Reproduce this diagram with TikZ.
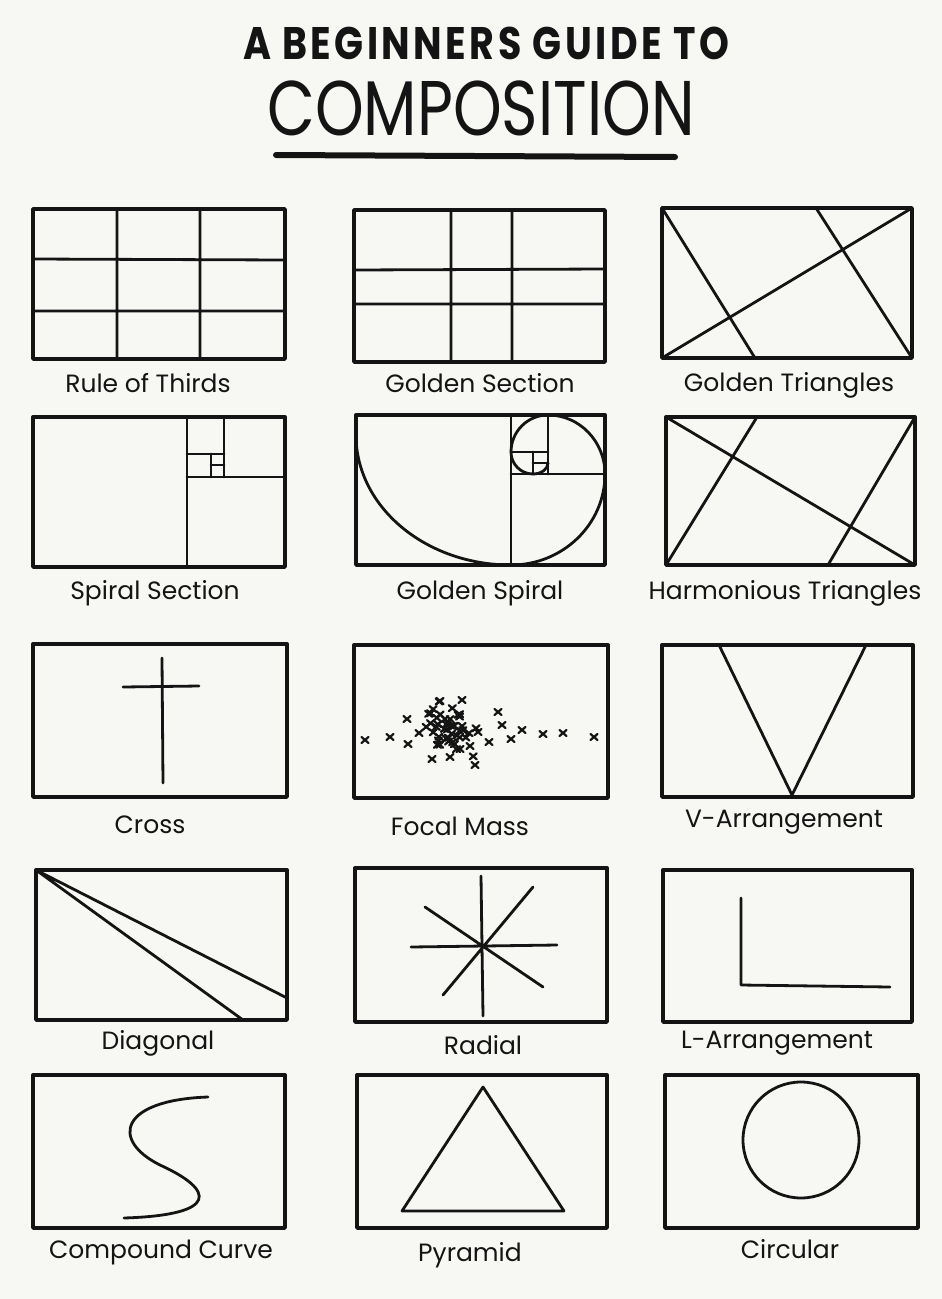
\documentclass[tikz,border=0pt]{standalone}
\usepackage{fontspec}
\setmainfont{Poppins}
\newfontfamily\headfont[LetterSpace=9]{Poppins}
\definecolor{paper}{RGB}{247,247,243}
\definecolor{ink}{RGB}{20,20,20}

\begin{document}
\begin{tikzpicture}[x=1pt,y=-1pt,line cap=round,line join=round,
  frame/.style={draw=ink,line width=3.4pt},
  pen/.style={draw=ink,line width=2.8pt},
  dot/.style={draw=ink,line width=2.2pt},
  lbl/.style={font=\fontsize{25}{25}\selectfont,text=ink,inner sep=0pt}]
\fill[paper] (0,0) rectangle (942,1299);
\node[font=\headfont\fontsize{38}{38}\selectfont\bfseries,text=ink] (head) at (486,43) {\scalebox{1}[1.2]{A BEGINNERS GUIDE TO}};
\node[font=\fontsize{62}{62}\selectfont,text=ink] (comp) at (481,108) {\scalebox{1}[1.25]{COMPOSITION}};
\draw[ink,line width=6pt] (276,155) -- (675,157);
% row 1
\draw[frame] (33,209) rectangle (285,359);
\draw[pen] (117,209) -- (117,359) (200,209) -- (200,359) (33,259) -- (285,260) (33,311) -- (285,311);
\draw[frame] (354,210) rectangle (605,362);
\draw[pen] (451,210) -- (451,362) (512,210) -- (512,362) (354,270) -- (605,269) (354,304) -- (605,304);
\draw[frame] (662,208) rectangle (912,358);
\draw[pen] (662,208) -- (755,358) (912,208) -- (662,358) (816,208) -- (912,358);
\node[lbl] (thirds) at (148,383) {Rule of Thirds};
\node[lbl] (gsection) at (480,383) {Golden Section};
\node[lbl] (gtri) at (789,385) {Golden Triangles};
% row 2
\draw[frame] (33,417) rectangle (285,567);
\draw[pen] (187,417) -- (187,567) (187,477) -- (285,477) (224,417) -- (224,477) (187,454) -- (224,454) (211,454) -- (211,477) (211,465) -- (224,465);
\draw[frame] (356,415) rectangle (605,565);
\draw[pen] (511,415) -- (511,565) (511,474) -- (605,474) (548,415) -- (548,474) (511,452) -- (548,452) (533,452) -- (533,474) (533,463) -- (548,463);
\draw[pen] (356,435) arc[start angle=180,end angle=90,x radius=155,y radius=130]
  arc[start angle=90,end angle=0,x radius=94,y radius=91]
  arc[start angle=0,end angle=-90,x radius=57,y radius=59]
  arc[start angle=-90,end angle=-180,radius=37]
  arc[start angle=180,end angle=90,radius=22]
  arc[start angle=90,end angle=0,x radius=15,y radius=11];
\draw[frame] (666,417) rectangle (915,565);
\draw[pen] (666,417) -- (915,565) (757,417) -- (666,565) (915,417) -- (828,565);
\node[lbl] (ssection) at (155,593) {Spiral Section};
\node[lbl] (gspiral) at (480,593) {Golden Spiral};
\node[lbl] (htri) at (785,593) {Harmonious Triangles};
% row 3
\draw[frame] (33,644) rectangle (287,797);
\draw[pen] (162,658) -- (163,783) (123,687) -- (199,686);
\draw[frame] (354,645) rectangle (608,798);
\foreach \px/\py in {365/740,390/737,407/719,408/744,419/733,432/759,450/757,475/765,498/712,502/725,489/742,511/739,522/730,543/734,563/733,594/737,440/701,462/700,478/732,470/746,460/749}
  {\draw[dot] ({\px-3.5},{\py-3}) -- ({\px+3.5},{\py+3}) ({\px-3.5},{\py+3}) -- ({\px+3.5},{\py-3});}
\pgfmathsetseed{4}
\foreach \i in {1,...,44} {
  \pgfmathsetmacro\px{450+16*(rand+rand)}
  \pgfmathsetmacro\py{728+15*(rand+rand)}
  \draw[dot] ({\px-3.5},{\py-3}) -- ({\px+3.5},{\py+3}) ({\px-3.5},{\py+3}) -- ({\px+3.5},{\py-3});}
\draw[frame] (662,645) rectangle (913,797);
\draw[pen] (719,645) -- (792,795) -- (866,645);
\node[lbl] (cross) at (150,825) {Cross};
\node[lbl] (focal) at (460,826) {Focal Mass};
\node[lbl] (varr) at (784,822) {V-Arrangement};
% row 4
\draw[frame] (36,870) rectangle (287,1020);
\draw[pen] (36,870) -- (287,998) (36,870) -- (243,1020);
\draw[frame] (355,868) rectangle (607,1022);
\draw[pen] (481,876) -- (483,1016) (411,947) -- (557,945) (425,907) -- (543,987) (533,887) -- (443,995);
\draw[frame] (663,870) rectangle (912,1022);
\draw[pen] (741,898) -- (741,985) -- (890,987);
\node[lbl] (diag) at (158,1043) {Diagonal};
\node[lbl] (radial) at (483,1045) {Radial};
\node[lbl] (larr) at (777,1043) {L-Arrangement};
% row 5
\draw[frame] (33,1075) rectangle (285,1228);
\draw[pen] (208,1097) .. controls (120,1100) and (110,1140) .. (160,1165) .. controls (215,1190) and (220,1215) .. (124,1218);
\draw[frame] (357,1075) rectangle (607,1228);
\draw[pen] (483,1087) -- (564,1211) -- (402,1211) -- cycle;
\draw[frame] (665,1075) rectangle (918,1228);
\draw[pen] (801,1140) circle[radius=58];
\node[lbl] (curve) at (161,1252) {Compound Curve};
\node[lbl] (pyramid) at (470,1255) {Pyramid};
\node[lbl] (circular) at (790,1249) {Circular};
\end{tikzpicture}
\end{document}
